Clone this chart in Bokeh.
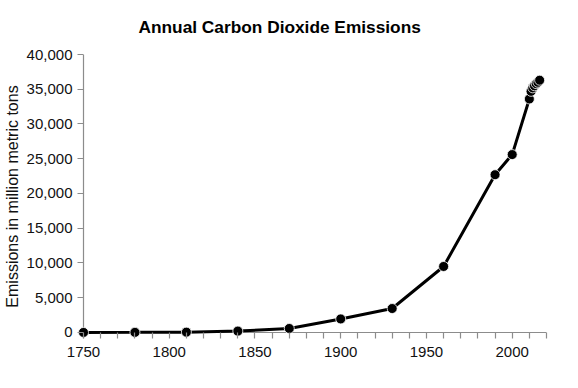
from bokeh.plotting import figure
from bokeh.models import Range1d, FixedTicker, NumeralTickFormatter, ColumnDataSource
from bokeh.embed import file_html
from bokeh.resources import INLINE

years = [1750, 1780, 1810, 1840, 1870, 1900, 1930, 1960, 1990, 2000, 2010,
         2011, 2012, 2013, 2014, 2015, 2016]
emissions = [10, 20, 50, 200, 580, 1950, 3450, 9500, 22700, 25600, 33600,
             34700, 35200, 35500, 35800, 36000, 36300]
x_ticks = list(range(1750, 2021, 10))
x_labels = {1750: "1750", 1800: "1800", 1850: "1850", 1900: "1900", 1950: "1950", 2000: "2000"}
y_ticks = list(range(0, 40001, 5000))
x_axis_span = [1750, 2020]
y_axis_span = [0, 40000]

FONT = "Liberation Sans"
AXIS = "#8c8c8c"
TICK = 6

p = figure(width=562, height=372, output_backend="svg", toolbar_location=None,
           x_range=Range1d(1746.5, 2020), y_range=Range1d(-864, 40000),
           min_border_left=71, min_border_right=16, min_border_top=54, min_border_bottom=34,
           title="Annual Carbon Dioxide Emissions")
p.outline_line_color = None
p.grid.visible = False

p.title.text_font = FONT
p.title.text_font_size = "17.3px"
p.title.text_font_style = "bold"
p.title.text_color = "black"
p.title.align = "left"
p.title.vertical_align = "top"
p.title.offset = 61
p.title.standoff = 31

for ax in (p.xaxis[0], p.yaxis[0]):
    ax.axis_line_color = None
    ax.major_tick_line_color = AXIS
    ax.minor_tick_line_color = None
    ax.major_tick_in = TICK
    ax.major_tick_out = 0
    ax.major_label_text_font = FONT
    ax.major_label_text_font_size = "15px"
    ax.major_label_text_color = "#111111"
    ax.major_tick_line_width = 1.2

p.xaxis.ticker = FixedTicker(ticks=x_ticks)
p.xaxis.major_label_overrides = {t: x_labels.get(t, "") for t in x_ticks}
p.xaxis.major_label_standoff = 8

p.yaxis.ticker = FixedTicker(ticks=y_ticks)
p.yaxis.formatter = NumeralTickFormatter(format="0,0")
p.yaxis.major_label_standoff = 5
p.yaxis.axis_label = "Emissions in million metric tons"
p.yaxis.axis_label_text_font = FONT
p.yaxis.axis_label_text_font_size = "16px"
p.yaxis.axis_label_text_font_style = "normal"
p.yaxis.axis_label_text_color = "#111111"
p.yaxis.axis_label_standoff = 3

# axis lines drawn at the data origin
p.segment(x0=[x_axis_span[0]], y0=[y_axis_span[0]], x1=[x_axis_span[1]], y1=[y_axis_span[0]],
          line_color=AXIS, line_width=1.2)
p.segment(x0=[x_axis_span[0]], y0=[p.y_range.start], x1=[x_axis_span[0]], y1=[y_axis_span[1]],
          line_color=AXIS, line_width=1.2)

src = ColumnDataSource(dict(x=years, y=emissions))
p.line("x", "y", source=src, line_color="black", line_width=3)
p.scatter("x", "y", source=src, size=10, fill_color="black", line_color="white", line_width=0.8)

open("out.html", "w").write(file_html(p, INLINE))
